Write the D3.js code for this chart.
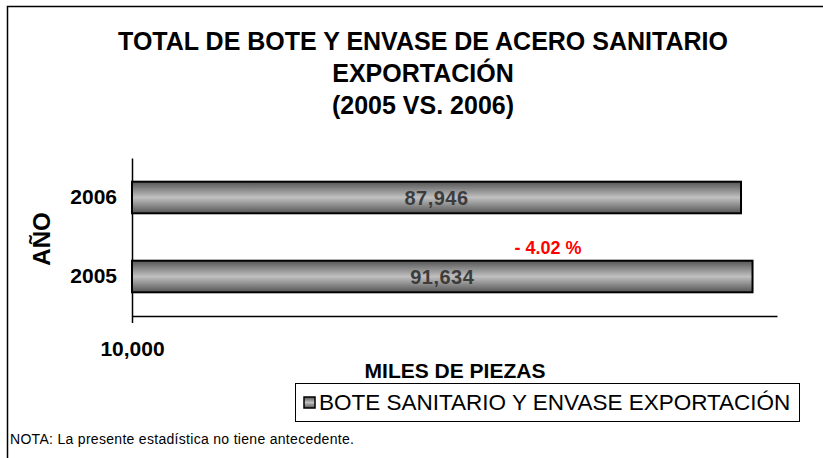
<!DOCTYPE html>
<html>
<head>
<meta charset="utf-8">
<script src="https://cdn.jsdelivr.net/npm/d3@7"></script>
<style>
  body { margin: 0; background: #fff; }
  text { font-family: "Liberation Sans", Arial, sans-serif; }
</style>
</head>
<body>
<div id="chart"></div>
<script>
// datos
var years = ["2006", "2005"];
var values = [87946, 91634];
var seriesName = "BOTE SANITARIO Y ENVASE EXPORTACIÓN";
var titleLines = ["TOTAL DE BOTE Y ENVASE DE ACERO SANITARIO", "EXPORTACIÓN", "(2005 VS. 2006)"];
var xTicks = [10000];
var changeLabel = "- 4.02 %";

var width = 823,
    height = 458;

var svg = d3.select("#chart")
    .append("svg")
    .attr("width", width)
    .attr("height", height);

var defs = svg.append("defs");
var grad = defs.append("linearGradient")
    .attr("id", "barGrad")
    .attr("x1", 0).attr("y1", 0).attr("x2", 0).attr("y2", 1);
grad.append("stop").attr("offset", "0%").attr("stop-color", "#555");
grad.append("stop").attr("offset", "50%").attr("stop-color", "#c0c0c0");
grad.append("stop").attr("offset", "100%").attr("stop-color", "#555");

// marco
svg.append("path")
    .attr("d", "M7.5," + height + "V6.5H" + width)
    .attr("fill", "none")
    .attr("stroke", "#000")
    .attr("stroke-width", 1.5);

// titulo
svg.append("g").selectAll("text")
    .data(titleLines)
    .enter()
    .append("text")
    .attr("x", 423)
    .attr("y", function(d, i) { return 50 + i * 32; })
    .attr("text-anchor", "middle")
    .style("font-weight", "bold")
    .style("font-size", "25px")
    .text(function(d) { return d; });

var x = d3.scaleLog().domain([10000, 100000]).range([132, 777]);
var y = d3.scaleBand().domain(years).range([158, 316]).paddingInner(0.6).paddingOuter(0.3);

// eje x
var xAxis = svg.append("g")
    .attr("transform", "translate(0,316)")
    .call(d3.axisBottom(x).tickValues(xTicks).tickFormat(d3.format(",")).tickSize(7).tickSizeOuter(0));
xAxis.select(".domain").attr("stroke", "#000").attr("stroke-width", 1.5);
xAxis.selectAll(".tick line").attr("stroke", "#000").attr("stroke-width", 1.5);
xAxis.selectAll(".tick text")
    .attr("y", 40)
    .attr("dy", 0)
    .attr("fill", "#000")
    .style("font-family", "'Liberation Sans', Arial, sans-serif")
    .style("font-weight", "bold")
    .style("font-size", "21px");

// eje y
var yAxis = svg.append("g")
    .attr("transform", "translate(132,0)")
    .call(d3.axisLeft(y).tickSize(0).tickSizeOuter(0).tickPadding(15));
yAxis.select(".domain").attr("stroke", "#000").attr("stroke-width", 1.5);
yAxis.selectAll(".tick text")
    .attr("fill", "#000")
    .style("font-family", "'Liberation Sans', Arial, sans-serif")
    .style("font-weight", "bold")
    .style("font-size", "21px");

// barras
var bars = svg.append("g").selectAll("g")
    .data(years)
    .enter()
    .append("g");

bars.append("rect")
    .attr("x", x(10000))
    .attr("y", function(d) { return y(d); })
    .attr("width", function(d, i) { return x(values[i]) - x(10000); })
    .attr("height", y.bandwidth())
    .attr("fill", "url(#barGrad)")
    .attr("stroke", "#000")
    .attr("stroke-width", 2);

bars.append("text")
    .attr("x", function(d, i) { return (x(10000) + x(values[i])) / 2; })
    .attr("y", function(d) { return y(d) + y.bandwidth() / 2 + 7; })
    .attr("text-anchor", "middle")
    .attr("fill", "#3c3c3c")
    .style("font-weight", "bold")
    .style("font-size", "20px")
    .style("letter-spacing", "0.5px")
    .text(function(d, i) { return d3.format(",")(values[i]); });

// variacion
svg.append("text")
    .attr("x", 548)
    .attr("y", 254)
    .attr("text-anchor", "middle")
    .attr("fill", "#ff0000")
    .style("font-weight", "bold")
    .style("font-size", "18px")
    .text(changeLabel);

// titulos de ejes
svg.append("text")
    .attr("transform", "translate(50,239) rotate(-90)")
    .attr("text-anchor", "middle")
    .style("font-weight", "bold")
    .style("font-size", "24px")
    .text("AÑO");

svg.append("text")
    .attr("x", 455)
    .attr("y", 378)
    .attr("text-anchor", "middle")
    .style("font-weight", "bold")
    .style("font-size", "21px")
    .text("MILES DE PIEZAS");

// leyenda
var legend = svg.append("g");
legend.append("rect")
    .attr("x", 295.5).attr("y", 383.5)
    .attr("width", 504).attr("height", 38)
    .attr("fill", "#fff")
    .attr("stroke", "#000");
legend.append("rect")
    .attr("x", 304).attr("y", 397)
    .attr("width", 11).attr("height", 11)
    .attr("fill", "url(#barGrad)")
    .attr("stroke", "#000")
    .attr("stroke-width", 1.5);
legend.append("text")
    .attr("x", 319)
    .attr("y", 410)
    .style("font-size", "22.5px")
    .text(seriesName);

// nota
svg.append("text")
    .attr("x", 10)
    .attr("y", 444)
    .style("font-size", "14px")
    .style("letter-spacing", "0.3px")
    .text("NOTA: La presente estadística no tiene antecedente.");
</script>
</body>
</html>
